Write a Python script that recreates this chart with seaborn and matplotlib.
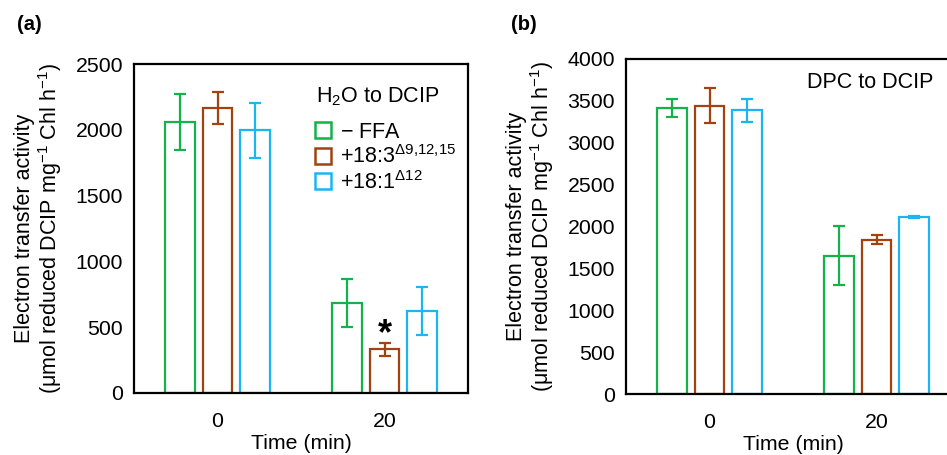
import numpy as np
import pandas as pd
import matplotlib
matplotlib.use("Agg")
import matplotlib.pyplot as plt
import seaborn as sns
from matplotlib.lines import Line2D

times = ["0", "20"]
treatments = ["- FFA", "+18:3", "+18:1"]
legend_labels = [r"$-$ FFA", r"+18:3$^{\Delta9{,}12{,}15}$", r"+18:1$^{\Delta12}$"]
colors = ["#13B24B", "#A3420F", "#19B6F1"]

# panel (a): H2O to DCIP
h2o_mean = {"- FFA": [2059, 686], "+18:3": [2166, 332], "+18:1": [1996, 621]}
h2o_err = {"- FFA": [213, 183], "+18:3": [120, 50], "+18:1": [210, 183]}

# panel (b): DPC to DCIP
dpc_mean = {"- FFA": [3415, 1651], "+18:3": [3443, 1843], "+18:1": [3387, 2113]}
dpc_err = {"- FFA": [110, 355], "+18:3": [205, 50], "+18:1": [135, 10]}

sns.set_style("white")
plt.rcParams["font.family"] = ["Liberation Sans", "DejaVu Sans"]
plt.rcParams["mathtext.fontset"] = "custom"
plt.rcParams["mathtext.rm"] = "Liberation Sans"
plt.rcParams["mathtext.it"] = "Liberation Sans:italic"
plt.rcParams["mathtext.bf"] = "Liberation Sans:bold"
plt.rcParams["mathtext.default"] = "regular"
for key in ["text.color", "axes.labelcolor", "xtick.color", "ytick.color"]:
    plt.rcParams[key] = "black"

W, H = 947, 455
fig = plt.figure(figsize=(W / 100, H / 100), dpi=100)


def make_df(mean):
    rows = []
    for t in treatments:
        for i, tm in enumerate(times):
            rows.append({"time": tm, "treatment": t, "value": mean[t][i]})
    return pd.DataFrame(rows)


def draw_panel(ax, mean, err, ymax, step):
    df = make_df(mean)
    sns.barplot(data=df, x="time", y="value", hue="treatment",
                hue_order=treatments, order=times, palette=colors,
                fill=False, errorbar=None, width=0.665, gap=0.19,
                linewidth=1.6, legend=False, ax=ax)
    # error bars on top of each bar
    for k, t in enumerate(treatments):
        bars = ax.containers[k]
        for i, b in enumerate(bars):
            xc = b.get_x() + b.get_width() / 2
            ax.errorbar(xc, mean[t][i], yerr=err[t][i], color=colors[k],
                        capsize=4.5, elinewidth=1.6, capthick=1.6, fmt="none")
    ax.set_ylim(0, ymax)
    ax.set_yticks(np.arange(0, ymax + 1, step))
    ax.set_xlim(-0.5, 1.5)
    ax.tick_params(axis="both", length=0, labelsize=15.3, pad=8)
    ax.tick_params(axis="x", pad=14)
    for s in ax.spines.values():
        s.set_linewidth(1.6)
        s.set_color("black")
    ax.set_xlabel("Time (min)", fontsize=15.3, labelpad=2)
    ax.set_ylabel("Electron transfer activity\n"
                  r"(μmol reduced DCIP mg$^{-1}$ Chl h$^{-1}$)",
                  fontsize=15.5, labelpad=8, linespacing=1.05)


# panel a
ax1 = fig.add_axes([134 / W, 1 - 393 / H, 334 / W, 329 / H])
draw_panel(ax1, h2o_mean, h2o_err, 2500, 500)
ax1.text(1.0, 440, "*", ha="center", va="center", fontsize=26,
         fontweight="bold")
ax1.text(0.73, 0.90, r"H$_2$O to DCIP", transform=ax1.transAxes,
         ha="center", va="center", fontsize=15.5)
handles = [Line2D([], [], marker="s", linestyle="none", markersize=11,
                  markerfacecolor="white", markeredgecolor=c,
                  markeredgewidth=1.8) for c in colors]
ax1.legend(handles, legend_labels, loc="upper left",
           bbox_to_anchor=(0.50, 0.85), frameon=False, fontsize=15.5,
           handletextpad=0.2, labelspacing=0.12, borderaxespad=0,
           handlelength=1.2)
fig.text(17 / W, 1 - 25 / H, "(a)", fontsize=14.5, fontweight="bold",
         va="center", ha="left")

# panel b (extends past right edge as in source)
ax2 = fig.add_axes([626 / W, 1 - 394 / H, 334 / W, 335 / H])
draw_panel(ax2, dpc_mean, dpc_err, 4000, 500)
ax2.text(0.73, 0.93, "DPC to DCIP", transform=ax2.transAxes,
         ha="center", va="center", fontsize=15.5)
fig.text(511 / W, 1 - 25 / H, "(b)", fontsize=14.5, fontweight="bold",
         va="center", ha="left")

fig.savefig("out.png", dpi=100)
